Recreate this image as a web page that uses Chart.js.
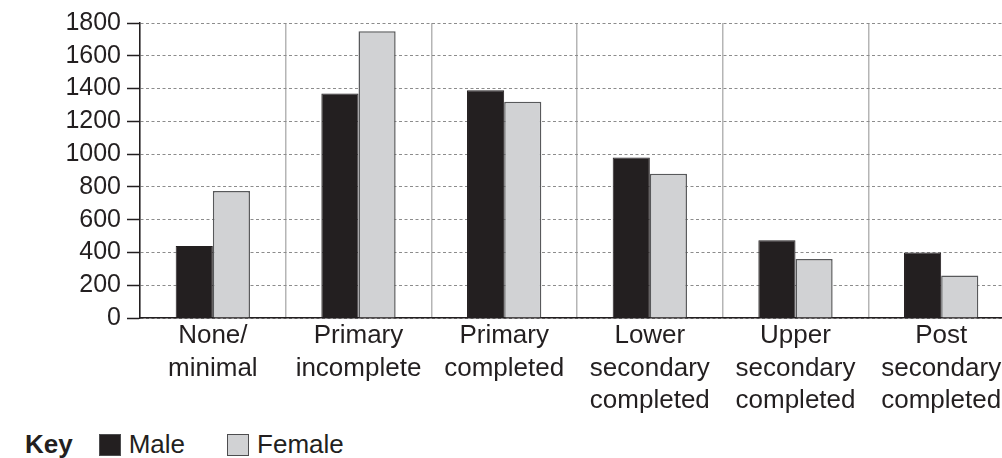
<!DOCTYPE html>
<html lang="en">
<head>
<meta charset="UTF-8">
<title>Education level by sex</title>
<script src="https://cdn.jsdelivr.net/npm/chart.js"></script>
<style>
  html, body {
    margin: 0;
    padding: 0;
    background: #fff;
    overflow: hidden;
    font-family: "Liberation Sans", Arial, sans-serif;
    color: #231f20;
  }
  .zone {
    position: relative;
    width: 1014px;
    height: 420px;
  }
  .cle {
    position: absolute;
    left: 25px;
    top: 429px;
    font-size: 26px;
    display: flex;
    align-items: center;
  }
  .cle b { margin-right: 26px; }
  .carre {
    display: inline-block;
    width: 20px;
    height: 20px;
    border: 1.5px solid #4d4d4f;
    margin-right: 8px;
  }
</style>
</head>
<body>

<div class="zone"><canvas id="graphique"></canvas></div>
<div class="cle">
  <b>Key</b>
  <span class="carre" style="background:#231f20"></span><span style="margin-right:42px">Male</span>
  <span class="carre" style="background:#d1d2d4"></span><span>Female</span>
</div>

<script>
// categories (libellés sur plusieurs lignes)
const categories = [
  ['None/', 'minimal'],
  ['Primary', 'incomplete'],
  ['Primary', 'completed'],
  ['Lower', 'secondary', 'completed'],
  ['Upper', 'secondary', 'completed'],
  ['Post', 'secondary', 'completed']
];
const hommes = [440, 1370, 1390, 980, 475, 400];
const femmes = [775, 1750, 1320, 880, 360, 260];
const graduations = [0, 200, 400, 600, 800, 1000, 1200, 1400, 1600, 1800];

const famille = '"Liberation Sans", Arial, sans-serif';

new Chart(document.getElementById('graphique'), {
  type: 'bar',
  data: {
    labels: categories,
    datasets: [
      { label: 'Male', data: hommes, backgroundColor: '#231f20', borderColor: '#231f20', borderWidth: 1 },
      { label: 'Female', data: femmes, backgroundColor: '#d1d2d4', borderColor: '#58595b', borderWidth: 1.5 }
    ]
  },
  options: {
    responsive: true,
    maintainAspectRatio: false,
    animation: false,
    layout: { padding: { top: 23, right: 0, left: 0, bottom: 0 } },
    plugins: { legend: { display: false }, tooltip: { enabled: false } },
    datasets: { bar: { barPercentage: 1, categoryPercentage: 0.51 } },
    scales: {
      x: {
        grid: { offset: true, color: '#b5b5b5', lineWidth: 1.5, drawTicks: false },
        border: { color: '#231f20', width: 1.5 },
        ticks: {
          color: '#231f20', font: { family: famille, size: 26, lineHeight: 1.25 },
          padding: 2, maxRotation: 0, autoSkip: false
        },
        afterFit: s => { s.height = 102; }
      },
      y: {
        min: 0,
        max: 1800,
        afterBuildTicks: s => { s.ticks = graduations.map(v => ({ value: v })); },
        grid: {
          color: '#8c8c8c', lineWidth: 1,
          tickLength: 13, tickColor: '#231f20', tickWidth: 1.5, tickBorderDash: []
        },
        border: { color: '#231f20', width: 1.5, dash: [3, 2.5] },
        ticks: {
          color: '#231f20', font: { family: famille, size: 25, lineHeight: 1 }, padding: 6,
          autoSkip: false,
          callback: v => String(v)
        },
        afterFit: s => { s.width = 140; }
      }
    }
  }
});
</script>

</body>
</html>
